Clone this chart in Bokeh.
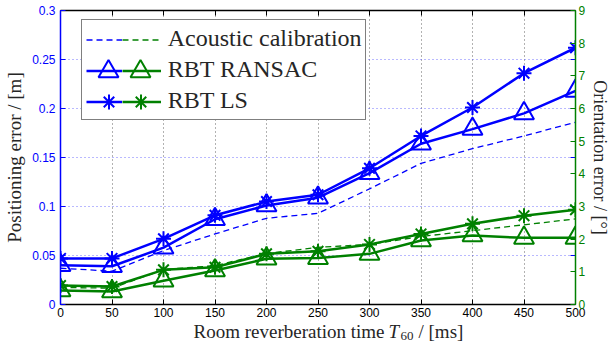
from bokeh.plotting import figure
from bokeh.layouts import column
from bokeh.models import LinearAxis, Range1d, FixedTicker, Legend, LegendItem, Label
from bokeh.embed import file_html
from bokeh.resources import INLINE

# ---------------- data ----------------
reverb_ms = [0, 50, 100, 150, 200, 250, 300, 350, 400, 450, 500]
pos_acoustic = [0.037, 0.034, 0.055, 0.072, 0.088, 0.093, 0.118, 0.144, 0.159, 0.172, 0.186]
pos_ransac = [0.040, 0.039, 0.058, 0.087, 0.101, 0.109, 0.134, 0.164, 0.179, 0.195, 0.218]
pos_ls = [0.047, 0.047, 0.067, 0.091, 0.105, 0.112, 0.139, 0.172, 0.201, 0.236, 0.262]
ori_acoustic = [0.52, 0.50, 1.07, 1.19, 1.56, 1.75, 1.84, 2.08, 2.26, 2.44, 2.62]
ori_ransac = [0.43, 0.40, 0.73, 1.04, 1.40, 1.42, 1.55, 1.96, 2.11, 2.04, 2.04]
ori_ls = [0.58, 0.55, 1.06, 1.14, 1.55, 1.63, 1.84, 2.16, 2.47, 2.72, 2.90]

x_ticks = [0, 50, 100, 150, 200, 250, 300, 350, 400, 450, 500]
x_tick_labels = ["0", "50", "100", "150", "200", "250", "300", "350", "400", "450", "500"]
pos_ticks = [0, 0.05, 0.1, 0.15, 0.2, 0.25, 0.3]
pos_tick_labels = ["0", "0.05", "0.1", "0.15", "0.2", "0.25", "0.3"]
ori_ticks = [0, 1, 2, 3, 4, 5, 6, 7, 8, 9]
ori_tick_labels = ["0", "1", "2", "3", "4", "5", "6", "7", "8", "9"]

legend_labels = ["Acoustic calibration", "RBT RANSAC", "RBT LS"]
x_title = ["Room reverberation time", "T", "60", "/ [ms]"]
y_title = "Positioning error / [m]"
y2_title = "Orientation error / [\u00b0]"

# ---------------- style ----------------
BLUE = "#0000ff"
GREEN = "#008000"
TXT = "#262626"
SERIF = "Liberation Serif"
SANS = "Liberation Sans"

W = 613
H_MAIN, H_TITLE = 321, 25
FL, FR, FT, FB = 60, 580, 10, 304   # frame edges in page pixels

p = figure(width=W, height=H_MAIN, output_backend="svg", toolbar_location=None,
           x_range=Range1d(x_ticks[0], x_ticks[-1]),
           y_range=Range1d(pos_ticks[0], pos_ticks[-1]),
           min_border_left=FL, min_border_right=W - FR, min_border_top=FT,
           min_border_bottom=H_MAIN - FB)
p.outline_line_color = None
p.background_fill_color = "white"
p.extra_y_ranges = {"ori": Range1d(ori_ticks[0], ori_ticks[-1])}

def style_axis(ax, color, ticks, labels, label_color):
    ax.ticker = FixedTicker(ticks=ticks)
    ax.major_label_overrides = {t: l for t, l in zip(ticks, labels)}
    ax.axis_line_color = color
    ax.axis_line_width = 1.5
    ax.major_tick_line_color = color
    ax.major_tick_line_width = 1
    ax.major_tick_in = 5
    ax.major_tick_out = 0
    ax.minor_tick_line_color = None
    ax.major_label_text_color = label_color
    ax.major_label_text_font = SANS
    ax.major_label_text_font_size = "12px"
    ax.axis_label_text_font = SERIF
    ax.axis_label_text_font_style = "normal"
    ax.axis_label_text_color = TXT

xa = p.xaxis[0]
style_axis(xa, "black", x_ticks, x_tick_labels, "black")
xa.major_label_standoff = 3

ya = p.yaxis[0]
style_axis(ya, BLUE, pos_ticks, pos_tick_labels, BLUE)
ya.major_label_standoff = 5
ya.axis_label = y_title
ya.axis_label_text_font_size = "19px"
ya.axis_label_standoff = 4

ya2 = LinearAxis(y_range_name="ori")
style_axis(ya2, GREEN, ori_ticks, ori_tick_labels, GREEN)
ya2.major_label_standoff = 3
ya2.axis_label = y2_title
ya2.axis_label_text_font_size = "18px"
ya2.axis_label_standoff = 2
p.add_layout(ya2, "right")

xtop = LinearAxis()
style_axis(xtop, "black", x_ticks, x_tick_labels, "black")
xtop.major_label_text_font_size = "0px"
xtop.major_label_standoff = 0
xtop.major_label_text_alpha = 0
p.add_layout(xtop, "above")

# grids
p.xgrid.ticker = FixedTicker(ticks=x_ticks)
p.xgrid.grid_line_color = "#404040"
p.xgrid.grid_line_dash = "1 3"
p.xgrid.grid_line_width = 1
p.xgrid.grid_line_alpha = 0.8
p.ygrid.ticker = FixedTicker(ticks=pos_ticks)
p.ygrid.grid_line_color = "#5050ff"
p.ygrid.grid_line_dash = "1 3"
p.ygrid.grid_line_width = 1
p.ygrid.grid_line_alpha = 0.8

# blue mirrored ticks on the right spine
p.scatter(x=[x_ticks[-1]] * (len(pos_ticks) - 2), y=pos_ticks[1:-1], marker="dash",
          size=10, line_color=BLUE, line_width=1)

# ---------------- series ----------------
DASH = "6 4"
r_pa = p.line(reverb_ms, pos_acoustic, line_color=BLUE, line_width=1.3, line_dash=DASH)
r_oa = p.line(reverb_ms, ori_acoustic, line_color=GREEN, line_width=1.3, line_dash=DASH,
              y_range_name="ori")

r_or = p.line(reverb_ms, ori_ransac, line_color=GREEN, line_width=2.5, y_range_name="ori")
r_or_m = p.scatter(reverb_ms, ori_ransac, marker="triangle", size=20, fill_color=None,
                   line_color=GREEN, line_width=2, y_range_name="ori")
r_ol = p.line(reverb_ms, ori_ls, line_color=GREEN, line_width=2.5, y_range_name="ori")
r_ol_m = p.scatter(reverb_ms, ori_ls, marker="asterisk", size=15,
                   line_color=GREEN, line_width=2, y_range_name="ori")

r_pr = p.line(reverb_ms, pos_ransac, line_color=BLUE, line_width=2.5)
r_pr_m = p.scatter(reverb_ms, pos_ransac, marker="triangle", size=20, fill_color=None,
                   line_color=BLUE, line_width=2)
r_pl = p.line(reverb_ms, pos_ls, line_color=BLUE, line_width=2.5)
r_pl_m = p.scatter(reverb_ms, pos_ls, marker="asterisk", size=15,
                   line_color=BLUE, line_width=2)

# invisible renderer used only for the label legend
r_dummy = p.line(x=[], y=[], line_alpha=0)

# ---------------- legend (composed of several Legend objects) ----------------
def make_legend(renderers, labels, left_px, top_px, glyph_w, glyph_h, padding,
                with_labels=False):
    n = len(renderers)
    height = 2 * padding + n * glyph_h
    loc = (left_px - FL, FB - top_px - height)
    items = [LegendItem(label=l, renderers=[r]) for r, l in zip(renderers, labels)]
    lg = Legend(items=items, location=loc, glyph_width=int(glyph_w),
                glyph_height=int(glyph_h), spacing=0, padding=int(padding), margin=0)
    if with_labels:
        lg.label_text_font = SERIF
        lg.label_text_font_size = "24px"
        lg.label_text_color = TXT
        lg.label_standoff = 6
        lg.label_height = 0
        lg.label_width = 193
        lg.border_line_color = "black"
        lg.border_line_width = 1
        lg.background_fill_color = "white"
        lg.background_fill_alpha = 1
    else:
        lg.label_text_font_size = "1px"
        lg.label_standoff = 0
        lg.label_width = 0
        lg.label_height = 0
        lg.border_line_alpha = 0
        lg.background_fill_alpha = 0
    p.add_layout(lg)
    return lg

ROW = 31
# box with labels
make_legend([r_dummy] * 3, legend_labels, 80.7, 21, 77, ROW, 3, with_labels=True)
# line samples
make_legend([r_pa, r_pr, r_pl], [" "] * 3, 86, 24, 36, ROW, 0)
make_legend([r_oa, r_or, r_ol], [" "] * 3, 122, 24, 39, ROW, 0)
# marker samples (legend marker size = 0.4 * glyph box)
make_legend([r_pr_m], [" "], 83, 45.5, 50, 50, 0)
make_legend([r_or_m], [" "], 115, 45.5, 50, 50, 0)
make_legend([r_pl_m], [" "], 89.5, 83, 37, 37, 0)
make_legend([r_ol_m], [" "], 121.5, 83, 37, 37, 0)

# ---------------- x-axis title (separate text strip below the plot) ----------------
t = figure(width=W, height=H_TITLE, output_backend="svg", toolbar_location=None,
           x_range=Range1d(0, 1), y_range=Range1d(0, 1),
           min_border_left=FL, min_border_right=W - FR, min_border_top=0,
           min_border_bottom=0, x_axis_location=None, y_axis_location=None)
t.outline_line_color = None
t.grid.visible = False

Y_FIX = 7   # measured vertical offset of the strip's frame

def tx(px):
    return px - FL

def ty(py):
    return H_MAIN + H_TITLE - py + Y_FIX

common = dict(x_units="screen", y_units="screen", text_font=SERIF, text_color=TXT,
              text_baseline="alphabetic")
t.add_layout(Label(x=tx(384), y=ty(338), text=x_title[0], text_align="right",
                   text_font_size="19px", **common))
t.add_layout(Label(x=tx(388), y=ty(338), text=x_title[1], text_align="left",
                   text_font_style="italic", text_font_size="19px", **common))
t.add_layout(Label(x=tx(400), y=ty(342), text=x_title[2], text_align="left",
                   text_font_size="13px", **common))
t.add_layout(Label(x=tx(418), y=ty(338), text=x_title[3], text_align="left",
                   text_font_size="19px", **common))

layout = column(p, t, spacing=0)
open("out.html", "w").write(file_html(layout, INLINE))
